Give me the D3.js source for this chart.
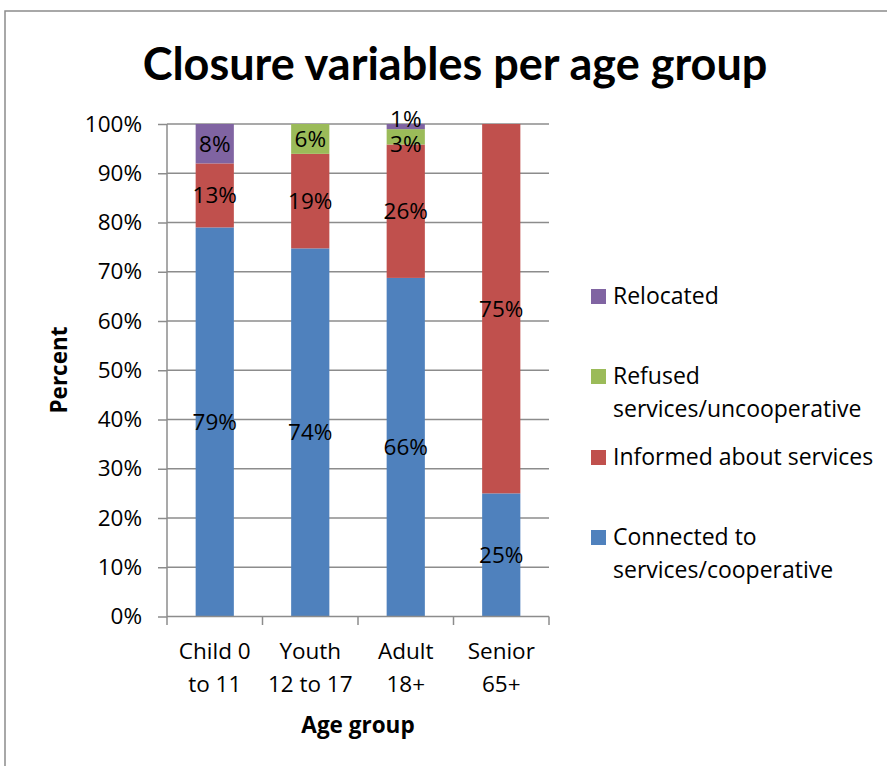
<!DOCTYPE html>
<html><head><meta charset="utf-8">
<script src="https://cdn.jsdelivr.net/npm/d3@7"></script>
<style>
html,body{margin:0;padding:0;background:#fff;}
svg{display:block;font-family:"Open Sans",sans-serif;}
</style></head>
<body>
<svg id="c" width="887" height="766"></svg>
<script>
const categories = [["Child 0","to 11"],["Youth","12 to 17"],["Adult","18+"],["Senior","65+"]];
const seriesNames = ["Connected to services/cooperative","Informed about services","Refused services/uncooperative","Relocated"];
const connected = [79,74,66,25];
const informed  = [13,19,26,75];
const refused   = [0,6,3,0];
const relocated = [8,0,1,0];
const yTicks = [0,0.1,0.2,0.3,0.4,0.5,0.6,0.7,0.8,0.9,1.0];
const colors = ["#4F81BD","#C0504D","#9BBB59","#8064A2"];
const legendLines = [["Relocated"],["Refused","services/uncooperative"],["Informed about services"],["Connected to","services/cooperative"]];
const legendOrder = [3,2,1,0];

const FS = 22.5;
const svg = d3.select("#c");
const rows = categories.map((c,i)=>({i, c0:connected[i], c1:informed[i], c2:refused[i], c3:relocated[i]}));
const keys = ["c0","c1","c2","c3"];
const stacked = d3.stack().keys(keys).offset(d3.stackOffsetExpand)(rows);

const x = d3.scaleBand().domain(d3.range(categories.length)).range([167,549]).paddingInner(0.6).paddingOuter(0.3);
const y = d3.scaleLinear().domain([0,1]).range([616.5,124]);

// frame
svg.append("rect").attr("x",5).attr("y",11).attr("width",900).attr("height",800)
  .attr("fill","none").attr("stroke","#8c8c8c").attr("stroke-width",1.5);

// title
svg.append("text").attr("x",455).attr("y",80).attr("text-anchor","middle")
  .attr("font-size",45).attr("font-weight","bold").attr("font-family","Lato, 'Open Sans', sans-serif")
  .text("Closure variables per age group");

// gridlines
svg.append("g").selectAll("line").data(yTicks.slice(1)).join("line")
  .attr("x1",167).attr("x2",549).attr("y1",d=>y(d)).attr("y2",d=>y(d))
  .attr("stroke","#8c8c8c").attr("stroke-width",1.5);

// bars
svg.append("g").selectAll("g").data(stacked).join("g").attr("fill",(d,i)=>colors[i])
  .selectAll("rect").data(d=>d).join("rect")
  .attr("x",(d,j)=>x(j)).attr("width",x.bandwidth())
  .attr("y",d=>y(d[1])).attr("height",d=>y(d[0])-y(d[1]));

// y axis
const yAxis = d3.axisLeft(y).tickValues(yTicks).tickFormat(d3.format(".0%")).tickSize(9).tickPadding(16);
const ya = svg.append("g").attr("transform","translate(167,0)").call(yAxis);
ya.select(".domain").attr("stroke","#8c8c8c").attr("stroke-width",1.5).attr("d","M0,124V616.5");
ya.selectAll(".tick line").attr("stroke","#8c8c8c").attr("stroke-width",1.5);
ya.selectAll(".tick text").attr("font-size",FS).attr("fill","#000").attr("font-family","'Open Sans',sans-serif");

// x axis
const xEdge = d3.scaleLinear().domain([0,categories.length]).range([167,549]);
const xa = svg.append("g");
xa.append("line").attr("x1",167).attr("x2",549).attr("y1",616.5).attr("y2",616.5).attr("stroke","#8c8c8c").attr("stroke-width",1.5);
xa.selectAll("line.t").data(d3.range(categories.length+1)).join("line").attr("class","t")
  .attr("x1",d=>xEdge(d)).attr("x2",d=>xEdge(d)).attr("y1",616.5).attr("y2",625)
  .attr("stroke","#8c8c8c").attr("stroke-width",1.5);
const xl = xa.selectAll("text").data(categories).join("text")
  .attr("text-anchor","middle").attr("font-size",FS).attr("fill","#000");
xl.selectAll("tspan").data((d,i)=>d.map(t=>({t,i}))).join("tspan")
  .attr("x",d=>x(d.i)+x.bandwidth()/2).attr("y",(d,k)=>659+k*33).text(d=>d.t);

// data labels with simple collision resolution per bar
const raw = [connected,informed,refused,relocated];
const labels = [];
stacked.forEach((s,si)=>s.forEach((d,j)=>{
  if (raw[si][j] > 0) labels.push({j, v:raw[si][j], cy:y((d[0]+d[1])/2)});
}));
const minGap = 25;
d3.groups(labels,l=>l.j).forEach(([j,ls])=>{
  ls.sort((a,b)=>b.cy-a.cy); // bottom to top
  for (let it=0; it<5; it++) {
    for (let k=0;k<ls.length-1;k++){
      const lo=ls[k], hi=ls[k+1];
      const gap = lo.cy-hi.cy;
      if (gap<minGap){ const dd=(minGap-gap)/2; lo.cy+=dd; hi.cy-=dd; }
    }
  }
});
svg.append("g").selectAll("text").data(labels).join("text")
  .attr("x",o=>x(o.j)+x.bandwidth()/2).attr("y",o=>o.cy+8)
  .attr("text-anchor","middle").attr("font-size",FS).attr("fill","#000")
  .text(o=>o.v+"%");

// axis titles
svg.append("text").attr("transform","translate(67,370) rotate(-90)").attr("text-anchor","middle")
  .attr("font-size",FS).attr("font-weight","bold").text("Percent");
svg.append("text").attr("x",358).attr("y",733).attr("text-anchor","middle")
  .attr("font-size",FS).attr("font-weight","bold").text("Age group");

// legend
const legY = [289,369,450,530];
const lg = svg.append("g").selectAll("g").data(legendOrder).join("g")
  .attr("transform",(d,k)=>`translate(591,${legY[k]})`);
lg.append("rect").attr("width",15).attr("height",15).attr("fill",d=>colors[d]);
lg.append("text").attr("font-size",23).attr("fill","#000")
  .selectAll("tspan").data((d,k)=>legendLines[k]).join("tspan")
  .attr("x",22).attr("y",(t,k)=>15+k*33).text(t=>t);
</script>
</body></html>
